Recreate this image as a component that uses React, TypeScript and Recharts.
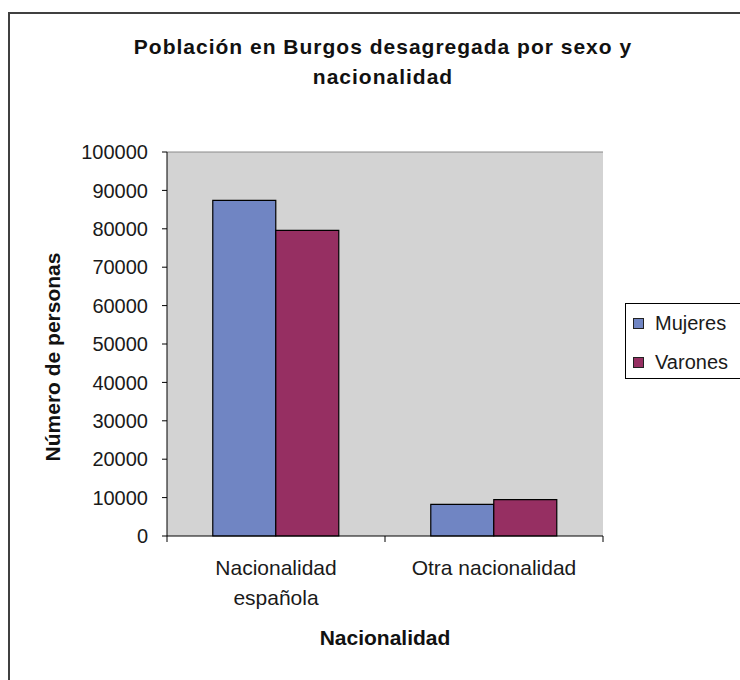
import { BarChart, Bar, XAxis, YAxis, CartesianGrid, ReferenceLine } from 'recharts';

// Data
const CATEGORIES = ['Nacionalidad española', 'Otra nacionalidad'];
const SERIES_NAMES = ['Mujeres', 'Varones'];
const MUJERES = [87400, 8250];
const VARONES = [79600, 9460];
const Y_TICKS = [0, 10000, 20000, 30000, 40000, 50000, 60000, 70000, 80000, 90000, 100000];

const TITLE_LINES = ['Población en Burgos desagregada por sexo y', 'nacionalidad'];
const X_TITLE = 'Nacionalidad';
const Y_TITLE = 'Número de personas';

const COLORS = ['#7085c3', '#962f62'];
const FONT = '"Liberation Sans", Arial, sans-serif';

// Chart geometry
const W = 740;
const H = 680;
const PLOT_LEFT = 167;
const PLOT_RIGHT = 603;
const PLOT_TOP = 152;
const PLOT_BOTTOM = 536;
const X_AXIS_H = 120;
const TICK_LEN = 6;
const TICK_GAP = 18;
const WRAP_CHARS = 18;

const data = CATEGORIES.map((name, i) => ({
  name,
  mujeres: MUJERES[i],
  varones: VARONES[i],
}));

// Excel-style wrapping of long category labels
function wrapLabel(label: string): string[] {
  if (label.length <= WRAP_CHARS) return [label];
  const cut = label.lastIndexOf(' ');
  return [label.slice(0, cut), label.slice(cut + 1)];
}

function CategoryTick(props: any) {
  const { x, y, payload, index } = props;
  const half = (PLOT_RIGHT - PLOT_LEFT) / CATEGORIES.length / 2;
  const axisY = y - TICK_GAP - TICK_LEN;
  const lines = wrapLabel(String(payload.value));
  return (
    <g>
      {index === 0 && (
        <line x1={x - half} x2={x - half} y1={axisY} y2={axisY + TICK_LEN} stroke="#000" />
      )}
      <line x1={x + half} x2={x + half} y1={axisY} y2={axisY + TICK_LEN} stroke="#000" />
      <text x={x} y={y + 15} textAnchor="middle" fontSize={21} fontFamily={FONT} fill="#1a1a1a">
        {lines.map((l, i) => (
          <tspan key={l} x={x} dy={i === 0 ? 0 : 30}>
            {l}
          </tspan>
        ))}
      </text>
    </g>
  );
}

export default function App() {
  return (
    <div
      style={{
        position: 'absolute',
        left: 0,
        top: 0,
        width: W,
        height: H,
        overflow: 'hidden',
        background: '#fff',
        fontFamily: FONT,
      }}
    >
      {/* outer frame (cropped on right and bottom) */}
      <div
        style={{
          position: 'absolute',
          left: 8,
          top: 12,
          width: W + 20,
          height: H + 20,
          borderTop: '2px solid #404040',
          borderLeft: '2px solid #404040',
        }}
      />

      {/* title */}
      <div
        style={{
          position: 'absolute',
          left: 0,
          top: 32,
          width: 766,
          textAlign: 'center',
          fontWeight: 'bold',
          fontSize: 21,
          letterSpacing: 1,
          lineHeight: '30px',
          color: '#111',
        }}
      >
        {TITLE_LINES.map((l) => (
          <div key={l}>{l}</div>
        ))}
      </div>

      <div style={{ position: 'absolute', left: 0, top: 0 }}>
        <BarChart
          width={W}
          height={H}
          data={data}
          margin={{ top: PLOT_TOP, right: W - PLOT_RIGHT, bottom: H - PLOT_BOTTOM - X_AXIS_H, left: 0 }}
          barGap={0}
          barCategoryGap="21%"
        >
          <CartesianGrid fill="#d3d3d3" stroke="none" horizontal={false} vertical={false} />

          <XAxis
            dataKey="name"
            height={X_AXIS_H}
            axisLine={{ stroke: '#000' }}
            tickLine={false}
            tickSize={TICK_LEN}
            tickMargin={TICK_GAP}
            tick={<CategoryTick />}
            interval={0}
            label={{
              value: X_TITLE,
              position: 'insideBottom',
              offset: 11,
              style: { fontWeight: 'bold', fontSize: 21, fontFamily: FONT, fill: '#111' },
            }}
          />
          <YAxis
            width={PLOT_LEFT}
            domain={[0, 100000]}
            ticks={Y_TICKS}
            interval={0}
            axisLine={{ stroke: '#000' }}
            tickLine={{ stroke: '#000' }}
            tickSize={5}
            tickMargin={14}
            tick={{ fill: '#1a1a1a', fontSize: 20, fontFamily: FONT }}
            label={{
              content: () => (
                <text
                  transform="translate(52,357) rotate(-90)"
                  textAnchor="middle"
                  dominantBaseline="central"
                  fontWeight="bold"
                  fontSize={21}
                  fontFamily={FONT}
                  fill="#111"
                >
                  {Y_TITLE}
                </text>
              ),
            }}
          />
          {/* plot area frame on top / right */}
          <YAxis
            yAxisId="frame"
            orientation="right"
            width={0}
            domain={[0, 100000]}
            tick={false}
            tickLine={false}
            axisLine={{ stroke: '#8a8a8a' }}
          />
          <ReferenceLine y={100000} stroke="#8a8a8a" />

          <Bar dataKey="mujeres" name={SERIES_NAMES[0]} fill={COLORS[0]} stroke="#000" strokeWidth={1.2} isAnimationActive={false} />
          <Bar dataKey="varones" name={SERIES_NAMES[1]} fill={COLORS[1]} stroke="#000" strokeWidth={1.2} isAnimationActive={false} />
        </BarChart>
      </div>

      {/* legend */}
      <div
        style={{
          position: 'absolute',
          left: 625,
          top: 303,
          width: 140,
          height: 76,
          border: '1.5px solid #000',
          background: '#fff',
          boxSizing: 'border-box',
        }}
      >
        {SERIES_NAMES.map((n, i) => (
          <div
            key={n}
            style={{
              position: 'absolute',
              left: 7,
              top: 6 + i * 39,
              height: 26,
              display: 'flex',
              alignItems: 'center',
              fontSize: 20,
              color: '#1a1a1a',
            }}
          >
            <span
              style={{
                display: 'inline-block',
                width: 9,
                height: 9,
                background: COLORS[i],
                border: '1px solid #222',
                marginRight: 11,
              }}
            />
            {n}
          </div>
        ))}
      </div>
    </div>
  );
}
